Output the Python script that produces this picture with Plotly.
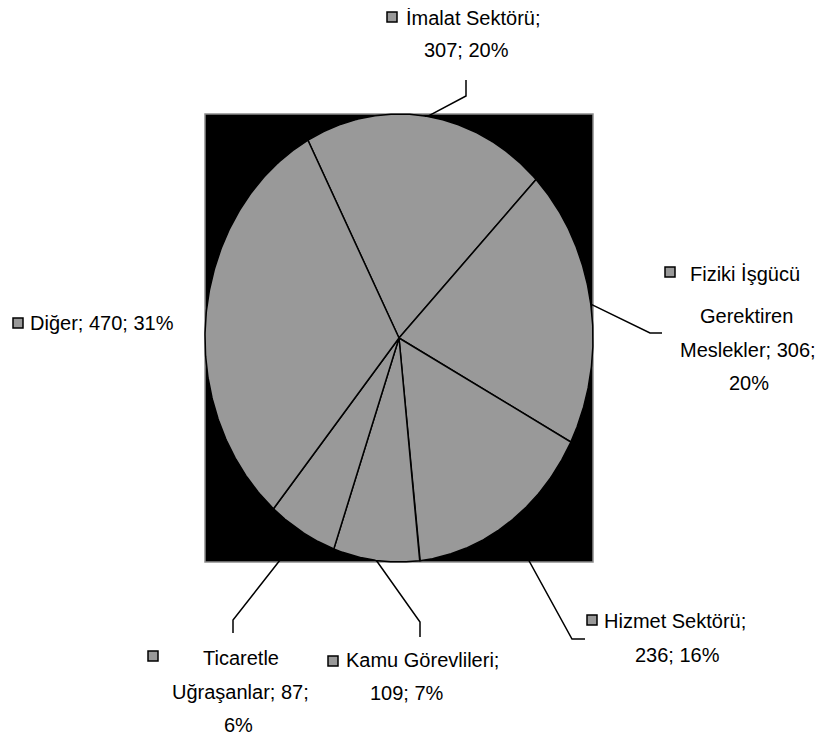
import numpy as np
import plotly.graph_objects as go

# ---- data ----
categories = ["İmalat Sektörü", "Fiziki İşgücü Gerektiren Meslekler", "Hizmet Sektörü",
              "Kamu Görevlileri", "Ticaretle Uğraşanlar", "Diğer"]
values = [307, 306, 236, 109, 87, 470]
percent_labels = ["20%", "20%", "16%", "7%", "6%", "31%"]

# ---- layout constants (reference pixels) ----
W, H = 830, 740
OFF = 8  # page body margin
BOX_L, BOX_R, BOX_T, BOX_B = 205, 593, 114, 562
SX = (BOX_R - BOX_L) / 2.0
SY = (BOX_B - BOX_T) / 2.0
CX = (BOX_L + BOX_R) / 2.0
CY = (BOX_T + BOX_B) / 2.0

def X(px):
    return (px - CX) / SX

def Y(py):
    return (CY - py) / SY

START_DEG = -28.0
FONT = "Liberation Sans Narrow, Arial Narrow, Liberation Sans, Arial"
FS = 20
GRAY = "#999999"

fig = go.Figure()

# pie slices as elliptical wedges computed from the values
total = float(sum(values))
cum = np.concatenate([[0], np.cumsum(values)]) / total
mids = []
for i, v in enumerate(values):
    a0 = np.radians(START_DEG + 360 * cum[i])
    a1 = np.radians(START_DEG + 360 * cum[i + 1])
    t = np.linspace(a0, a1, 200)
    xs = np.concatenate([[0], np.sin(t), [0]])
    ys = np.concatenate([[0], np.cos(t), [0]])
    fig.add_trace(go.Scatter(x=xs, y=ys, mode="lines", fill="toself",
                             fillcolor=GRAY, line=dict(color="black", width=1.5),
                             hoverinfo="text", text=categories[i], showlegend=False))
    am = (a0 + a1) / 2
    mids.append((np.sin(am), np.cos(am)))

# label texts (text, x, y, anchor), square key positions, leader polyline points (pixels)
labels = [
    dict(lines=[("İmalat Sektörü;", 404, 18, "left"), ("307; 20%", 466, 50, "center")],
         key=(392, 17), leader=[(466, 96), (466, 80)]),
    dict(lines=[("Fiziki İşgücü", 688, 274, "left"), ("Gerektiren", 746, 316, "center"),
                ("Meslekler; 306;", 748, 350, "center"), ("20%", 749, 383, "center")],
         key=(670, 272), leader=[(650, 333), (662, 333)]),
    dict(lines=[("Hizmet Sektörü;", 602, 621, "left"), ("236; 16%", 677, 655, "center")],
         key=(592, 620), leader=[(572, 639), (585, 639)]),
    dict(lines=[("Kamu Görevlileri;", 344, 660, "left"), ("109; 7%", 407, 693, "center")],
         key=(333, 661), leader=[(420, 622), (420, 637)]),
    dict(lines=[("Ticaretle", 241, 658, "center"), ("Uğraşanlar; 87;", 240, 692, "center"),
                ("6%", 238, 725, "center")],
         key=(153, 656), leader=[(233, 620), (233, 633)]),
    dict(lines=[("Diğer; 470; 31%", 28, 323, "left")],
         key=(18, 323), leader=[]),
]

for i, lab in enumerate(labels):
    if lab["leader"]:
        mx, my = mids[i]
        lx = [mx] + [X(p[0]) for p in lab["leader"]]
        ly = [my] + [Y(p[1]) for p in lab["leader"]]
        fig.add_trace(go.Scatter(x=lx, y=ly, mode="lines",
                                 line=dict(color="black", width=1.5),
                                 hoverinfo="skip", showlegend=False))
    kx, ky = lab["key"]
    fig.add_trace(go.Scatter(x=[X(kx)], y=[Y(ky)], mode="markers",
                             marker=dict(symbol="square", size=10, color=GRAY,
                                         line=dict(color="black", width=1.5)),
                             hoverinfo="skip", showlegend=False, cliponaxis=False))
    for txt, tx, ty, anc in lab["lines"]:
        fig.add_annotation(x=X(tx), y=Y(ty), xref="x", yref="y", text=txt,
                           showarrow=False, xanchor=anc, yanchor="middle",
                           font=dict(family=FONT, size=FS, color="black"))

# black plot area with gray border
fig.add_shape(type="rect", x0=-1, x1=1, y0=-1, y1=1, xref="x", yref="y",
              fillcolor="black", line=dict(color="#8c8c8c", width=1.5), layer="below")

fig.update_xaxes(range=[X(OFF), X(W)], domain=[0, 1], visible=False, fixedrange=True)
fig.update_yaxes(range=[Y(H), Y(OFF)], domain=[0, 1], visible=False, fixedrange=True)
fig.update_layout(width=W - OFF, height=H - OFF, margin=dict(l=0, r=0, t=0, b=0),
                  paper_bgcolor="white", plot_bgcolor="white", showlegend=False)

fig.write_html("out.html")
